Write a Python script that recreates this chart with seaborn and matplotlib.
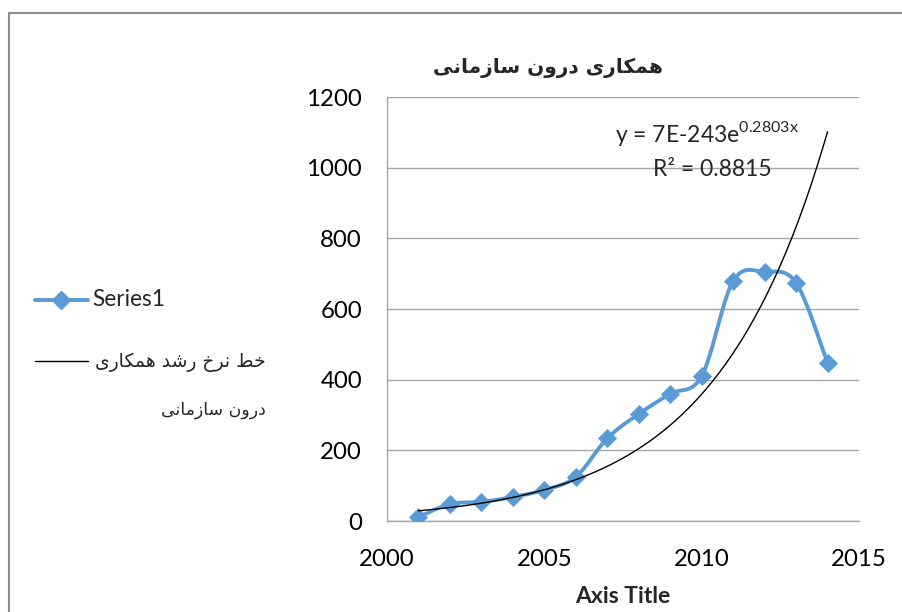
import numpy as np
import pandas as pd
import matplotlib
matplotlib.use("Agg")
import matplotlib.pyplot as plt
from matplotlib.lines import Line2D
from matplotlib.patches import Rectangle
import seaborn as sns

# ---- data -------------------------------------------------------------
years = [2001, 2002, 2003, 2004, 2005, 2006, 2007, 2008, 2009, 2010, 2011, 2012, 2013, 2014]
values = [11, 48, 54, 68, 88, 125, 234, 303, 360, 410, 679, 705, 674, 447]
x_ticks = [2000, 2005, 2010, 2015]
y_ticks = [0, 200, 400, 600, 800, 1000, 1200]

title_text = "همکاری درون سازمانی"
series_label = "Series1"
trend_label_lines = ["خط نرخ رشد همکاری", "درون سازمانی"]
equation_text = r"y = 7E-243e$^{\mathrm{0.2803x}}$"
r2_text = "R² = 0.8815"
x_label = "Axis Title"

# ---- Persian shaping (presentation forms, visual order) ---------------
ARABIC_FORMS = {
    # letter: (isolated, final, initial, medial)
    'ه': ('\uFEE9', '\uFEEA', '\uFEEB', '\uFEEC'),
    'م': ('\uFEE1', '\uFEE2', '\uFEE3', '\uFEE4'),
    'ک': ('\uFB8E', '\uFB8F', '\uFB90', '\uFB91'),
    'ا': ('\uFE8D', '\uFE8E', None, None),
    'ر': ('\uFEAD', '\uFEAE', None, None),
    'ی': ('\uFBFC', '\uFBFD', '\uFBFE', '\uFBFF'),
    'د': ('\uFEA9', '\uFEAA', None, None),
    'و': ('\uFEED', '\uFEEE', None, None),
    'ن': ('\uFEE5', '\uFEE6', '\uFEE7', '\uFEE8'),
    'س': ('\uFEB1', '\uFEB2', '\uFEB3', '\uFEB4'),
    'ز': ('\uFEAF', '\uFEB0', None, None),
    'خ': ('\uFEA5', '\uFEA6', '\uFEA7', '\uFEA8'),
    'ط': ('\uFEC1', '\uFEC2', '\uFEC3', '\uFEC4'),
    'ش': ('\uFEB5', '\uFEB6', '\uFEB7', '\uFEB8'),
}


def shape_rtl(text):
    out = []
    for i, ch in enumerate(text):
        forms = ARABIC_FORMS.get(ch)
        if forms is None:
            out.append(ch)
            continue
        prev = text[i - 1] if i > 0 else ''
        nxt = text[i + 1] if i + 1 < len(text) else ''
        joins_prev = prev in ARABIC_FORMS and ARABIC_FORMS[prev][2] is not None
        joins_next = forms[2] is not None and nxt in ARABIC_FORMS
        if joins_prev and joins_next:
            f = forms[3]
        elif joins_prev:
            f = forms[1]
        elif joins_next:
            f = forms[2]
        else:
            f = forms[0]
        out.append(f)
    return ''.join(reversed(out))


def smooth_curve(xs, ys, steps=30):
    """Catmull-Rom style Bezier smoothing through every point."""
    p = np.column_stack([xs, ys]).astype(float)
    p = np.vstack([p[0], p, p[-1]])
    pts = []
    t = np.linspace(0, 1, steps)[:, None]
    for i in range(1, len(p) - 2):
        p0, p1, p2, p3 = p[i - 1], p[i], p[i + 1], p[i + 2]
        c1 = p1 + (p2 - p0) / 6.0
        c2 = p2 - (p3 - p1) / 6.0
        seg = ((1 - t) ** 3) * p1 + 3 * ((1 - t) ** 2) * t * c1 + 3 * (1 - t) * t ** 2 * c2 + t ** 3 * p2
        pts.append(seg if i == 1 else seg[1:])
    pts = np.vstack(pts)
    return pts[:, 0], pts[:, 1]


# ---- figure -----------------------------------------------------------
sns.set_theme(style="white")
plt.rcParams['font.family'] = ['Lato', 'DejaVu Sans']
plt.rcParams['mathtext.fontset'] = 'custom'
plt.rcParams['mathtext.rm'] = 'Lato'

W, H = 903, 612
fig = plt.figure(figsize=(W / 100, H / 100), dpi=100)
fig.patch.set_facecolor("white")

ax = fig.add_axes([387 / W, 1 - 521 / H, (859 - 387) / W, (521 - 97) / H])

blue = "#5B9BD5"
grid_col = "#A6A6A6"

# exponential trend fitted to the series
coef = np.polyfit(np.array(years, float), np.log(values), 1)
tx = np.linspace(years[0], years[-1], 200)
ty = np.exp(coef[1]) * np.exp(coef[0] * tx)

sx, sy = smooth_curve(years, values)
df_smooth = pd.DataFrame({"year": sx, "value": sy})
df_pts = pd.DataFrame({"year": years, "value": values})

sns.lineplot(data=df_smooth, x="year", y="value", sort=False, estimator=None,
             color=blue, linewidth=2.8, ax=ax, zorder=3)
sns.scatterplot(data=df_pts, x="year", y="value", marker="D", s=95,
                color=blue, edgecolor=blue, linewidth=0, ax=ax, zorder=4)
ax.plot(tx, ty, color="black", linewidth=1.0, zorder=5)

ax.set_xlim(2000, 2015)
ax.set_ylim(0, 1200)
ax.set_xticks(x_ticks)
ax.set_yticks(y_ticks)
ax.set_xticklabels([str(v) for v in x_ticks])
ax.set_yticklabels([str(v) for v in y_ticks])
ax.yaxis.grid(True, color=grid_col, linewidth=1.0)
ax.xaxis.grid(False)
ax.set_axisbelow(True)
for side in ("top", "right"):
    ax.spines[side].set_visible(False)
for side in ("left", "bottom"):
    ax.spines[side].set_color(grid_col)
    ax.spines[side].set_linewidth(1.0)
ax.tick_params(axis="both", which="major", direction="out", length=8, width=1.0,
               color=grid_col, labelsize=17.3, labelcolor="black")
ax.tick_params(axis="x", pad=12)
ax.tick_params(axis="y", pad=10)
ax.set_xlabel(x_label, fontsize=16.5, fontweight="bold", labelpad=12)
ax.set_ylabel("")

# equation annotation
fig.text(707 / W, 1 - 133 / H, equation_text, fontsize=16.5, ha="center", va="center")
fig.text(712 / W, 1 - 169 / H, r2_text, fontsize=16.5, ha="center", va="center")

# title
fig.text(548 / W, 1 - 68 / H, shape_rtl(title_text), fontsize=14.5, fontweight="bold",
         family="DejaVu Sans", ha="center", va="center")

# legend
fig.add_artist(Line2D([35 / W, 88 / W], [1 - 300 / H] * 2, color=blue, linewidth=2.8,
                      transform=fig.transFigure))
fig.add_artist(Line2D([61.5 / W], [1 - 300 / H], color=blue, marker="D", markersize=9,
                      linewidth=0, transform=fig.transFigure))
fig.text(92 / W, 1 - 300 / H, series_label, fontsize=16.3, ha="left", va="center")
fig.add_artist(Line2D([35 / W, 88 / W], [1 - 361 / H] * 2, color="black", linewidth=1.0,
                      transform=fig.transFigure))
fig.text(266 / W, 1 - 362 / H, shape_rtl(trend_label_lines[0]), fontsize=13.5,
         family="DejaVu Sans", ha="right", va="center")
fig.text(266 / W, 1 - 410 / H, shape_rtl(trend_label_lines[1]), fontsize=12.5,
         family="DejaVu Sans", ha="right", va="center")

# chart frame
fig.add_artist(Rectangle((8.5 / W, -0.1), 1.2, 1 - 13 / H + 0.1, transform=fig.transFigure,
                         fill=False, edgecolor="#8C8C8C", linewidth=1.5))

fig.savefig("out.png", dpi=100, facecolor="white")
